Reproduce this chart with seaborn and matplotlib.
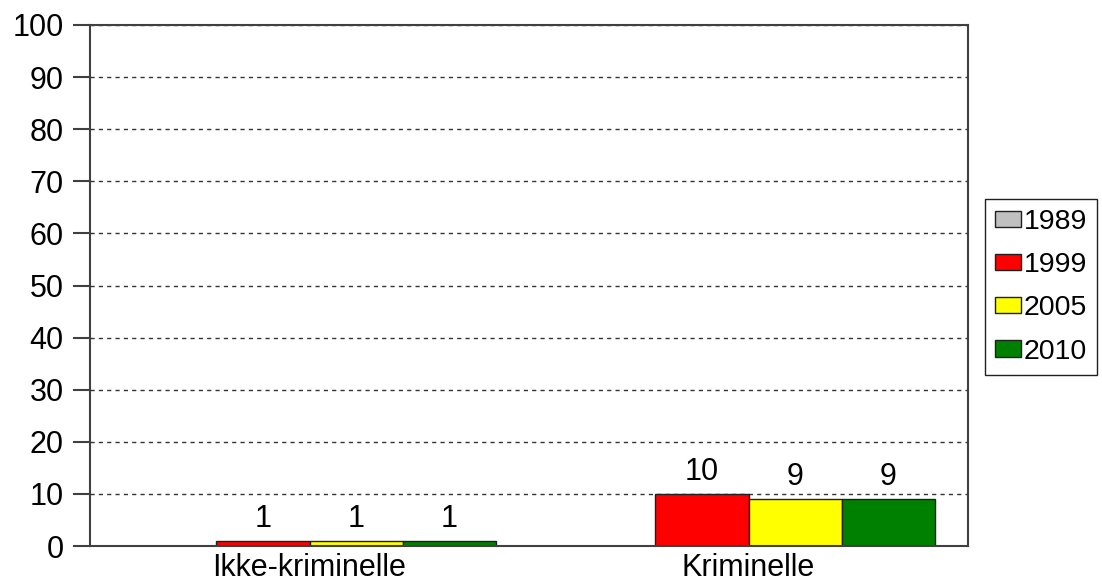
import pandas as pd
import matplotlib
matplotlib.use("Agg")
import matplotlib.pyplot as plt
import seaborn as sns
from matplotlib.patches import Patch

# Data
categories = ["Ikke-kriminelle", "Kriminelle"]
years = ["1989", "1999", "2005", "2010"]
values_1989 = [None, None]
values_1999 = [1, 10]
values_2005 = [1, 9]
values_2010 = [1, 9]
colors = ["#C0C0C0", "#FF0000", "#FFFF00", "#008000"]

rows = []
for year, vals in zip(years, [values_1989, values_1999, values_2005, values_2010]):
    for cat, v in zip(categories, vals):
        rows.append({"category": cat, "year": year, "value": v})
df = pd.DataFrame(rows)
df["value"] = df["value"].astype(float)

sns.set_style("white")
plt.rcParams["font.family"] = ["Liberation Sans", "DejaVu Sans"]
plt.rcParams["text.color"] = "black"
plt.rcParams["xtick.color"] = "black"
plt.rcParams["ytick.color"] = "black"

fs = 22
fig = plt.figure(figsize=(11.02, 5.88), dpi=100)
ax = fig.add_axes([90 / 1102, 42 / 588, 878 / 1102, 521 / 588])

sns.barplot(data=df, x="category", y="value", hue="year", order=categories,
            hue_order=years, palette=colors, width=0.85, errorbar=None,
            edgecolor="#202020", linewidth=1, saturation=1, ax=ax, legend=False)

for cont in ax.containers:
    labels = ["" if pd.isna(v) else f"{v:g}" for v in cont.datavalues]
    ax.bar_label(cont, labels=labels, padding=5, fontsize=fs, color="black")

ax.set_ylim(0, 100)
ax.set_yticks(range(0, 101, 10))
ax.set_xlabel("")
ax.set_ylabel("")
ax.yaxis.grid(True, linestyle=(0, (3, 3)), color="#333333", linewidth=1)
ax.set_axisbelow(True)
for s in ax.spines.values():
    s.set_visible(True)
    s.set_color("#404040")
    s.set_linewidth(1.5)
ax.tick_params(axis="y", length=12, width=1.5, color="#404040", labelcolor="black",
               pad=7, labelsize=fs, left=True)
ax.tick_params(axis="x", length=0, pad=5, labelsize=fs, labelcolor="black")

handles = [Patch(facecolor=c, edgecolor="#202020", linewidth=1, label=y) for y, c in zip(years, colors)]
leg = fig.legend(handles=handles, loc="center left", bbox_to_anchor=(985 / 1102, 0.512),
                 fontsize=20.5, frameon=True, fancybox=False, edgecolor="#202020",
                 framealpha=1, handlelength=0.9, handleheight=0.5, handletextpad=0.1,
                 labelspacing=0.6, borderpad=0.35, borderaxespad=0)
leg.get_frame().set_linewidth(1)

fig.savefig("out.png", dpi=100)
